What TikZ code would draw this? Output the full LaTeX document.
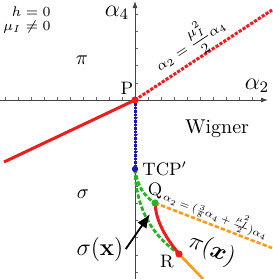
\documentclass[tikz,border=0pt]{standalone}
\usepackage{amsmath,amssymb,bm}
\usetikzlibrary{arrows.meta,positioning}
\definecolor{phred}{HTML}{F21A1A}
\definecolor{phblue}{HTML}{1A1AB0}
\definecolor{phgreen}{HTML}{22B422}
\definecolor{phorange}{HTML}{FF9A14}
\definecolor{axisgray}{HTML}{444444}

\begin{document}
\begin{tikzpicture}[
  x=0.5pt, y=-0.5pt,
  >=Latex,
  axis/.style={->, draw=axisgray, line width=0.45pt, >={Latex[length=3.5pt,width=2.5pt]}},
  tickmark/.style={draw=axisgray!80, line width=0.3pt},
  firstorder/.style={draw=phred, line width=1.5pt},
  redcross/.style={draw=phred, line width=1.5pt, dash pattern=on 1.6pt off 0.7pt},
  bluecross/.style={draw=phblue, line width=1.5pt, dash pattern=on 1.2pt off 0.5pt},
  greenline/.style={draw=phgreen, line width=1.4pt, dash pattern=on 2.2pt off 1pt},
  orangedash/.style={draw=phorange, line width=1.3pt, dash pattern=on 2.2pt off 1pt},
  orangeline/.style={draw=phorange, line width=1.3pt},
  dot/.style={circle, fill=#1, inner sep=0pt, minimum size=3.6pt},
  ptlabel/.style={font=\small, inner sep=0pt},
  pointer/.style={->, draw=black, line width=0.9pt, >={Latex[length=7pt,width=5.5pt]}}
]
\useasboundingbox (0,0) rectangle (273,279);

% axes
\coordinate (xstart) at (0,100);
\coordinate (xend) at (268,100);
\coordinate (ystart) at (135,279);
\coordinate (yend) at (135,1);
\foreach \k in {-10,...,-1,1,2,...,9}
  \draw[tickmark] ({135+13*\k},100) -- ++(0,-2.6);
\foreach \k in {-5,...,-1,1,2,...,10}
  \draw[tickmark] (135,{100+17.2*\k}) -- ++(2.6,0);
\draw[axis] (xstart) -- (xend);
\draw[axis] (ystart) -- (yend);

% special points
\coordinate (P) at (135,100);
\coordinate (TCP) at (135,169);
\coordinate (Q) at (155,203);
\coordinate (R) at (179,254);
\coordinate (redend) at (4,162);
\coordinate (crossend) at (272,10);
\coordinate (dashend) at (272,248);
\coordinate (lineend) at (203,279);
\coordinate (arrowtip) at (150,214);

% phase boundaries
\draw[firstorder] (P) -- (redend);
\draw[redcross] (P) -- (crossend);
\draw[bluecross] (P) -- (TCP);
\draw[greenline] (TCP) .. controls (137,186) and (145,197) .. (Q);
\draw[greenline] (TCP) .. controls (136,205) and (148,232) .. (R);
\draw[firstorder] (Q) .. controls (156,222) and (166,238) .. (R);
\draw[orangedash] (Q) -- (dashend);
\draw[orangeline] (R) -- (lineend);

\node[dot=phred] (Pdot) at (P) {};
\node[dot=phblue, minimum size=3.2pt] (TCPdot) at (TCP) {};
\node[dot=phgreen] (Qdot) at (Q) {};
\node[dot=phred] (Rdot) at (R) {};

% labels
\node[font=\scriptsize, align=right, anchor=north east, inner sep=0pt] (params) at (51,6) {$h=0$\\[-1pt]$\mu_I\neq0$};
\node[font=\large, inner sep=0pt] (ylabel) at (117,13) {$\alpha_4$};
\node[font=\large, inner sep=0pt] (xlabel) at (257,86) {$\alpha_2$};
\node[inner sep=0pt] (pilabel) at (82,60) {$\pi$};
\node[inner sep=0pt] (sigmalabel) at (83,194) {$\sigma$};
\node[inner sep=0pt] (wigner) at (217,129) {Wigner};
\node[ptlabel] (Plabel) at (127,88) {P};
\node[ptlabel, anchor=west] (TCPlabel) at (142,169) {TCP$'$};
\node[ptlabel] (Qlabel) at (155,191) {Q};
\node[ptlabel] (Rlabel) at (167,262) {R};
\node[font=\scriptsize, rotate=33.3, inner sep=0pt] (crosslabel) at (190,44) {$\alpha_2=\dfrac{\mu_I^2}{2}\alpha_4$};
\node[font=\scriptsize, scale=0.78, rotate=-21, inner sep=0pt] (dashlabel) at (216,214) {$\alpha_2=(\frac{3}{8}\alpha_4+\frac{\mu_I^2}{2})\alpha_4$};
\node[font=\large, rotate=-22, inner sep=0pt] (pixlabel) at (212,250) {$\pi(\bm{x})$};
\node[font=\large, inner sep=1pt] (sigxlabel) at (100,249) {$\sigma(\mathbf{x})$};

\draw[pointer] (sigxlabel.east) -- (arrowtip);
\end{tikzpicture}
\end{document}
